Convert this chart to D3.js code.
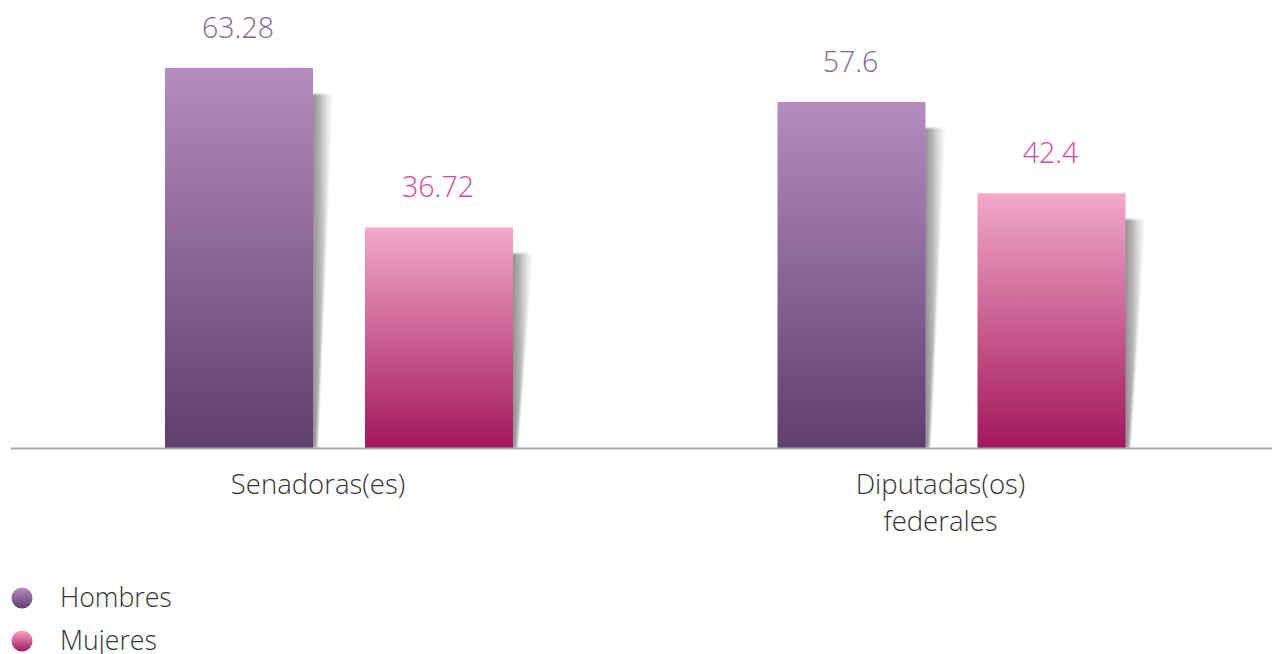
<!DOCTYPE html>
<html><head><meta charset="utf-8">
<script src="https://cdn.jsdelivr.net/npm/d3@7/dist/d3.min.js"></script>
<style>body{margin:0;background:#fff;}svg{display:block;}text{font-family:"Open Sans",sans-serif;font-weight:300;}</style>
</head><body><div id="chart"></div>
<script>
const categories = ["Senadoras(es)", "Diputadas(os) federales"];
const categoryLines = [["Senadoras(es)"], ["Diputadas(os)", "federales"]];
const seriesNames = ["Hombres", "Mujeres"];
const hombres = [63.28, 57.6];
const mujeres = [36.72, 42.4];
const valueLabels = [["63.28", "36.72"], ["57.6", "42.4"]];

const W = 1272, H = 654;
const svg = d3.select("#chart").append("svg").attr("width", W).attr("height", H);
const defs = svg.append("defs");

const grads = {
  Hombres: ["#b58cbf", "#5e3f6e"],
  Mujeres: ["#f2a9ca", "#a2175a"]
};
const labelColor = {Hombres: "#7f6797", Mujeres: "#d8479a"};
Object.entries(grads).forEach(([k, c]) => {
  const g = defs.append("linearGradient").attr("id", "g" + k).attr("x1", 0).attr("y1", 0).attr("x2", 0).attr("y2", 1);
  g.append("stop").attr("offset", "0%").attr("stop-color", c[0]);
  g.append("stop").attr("offset", "100%").attr("stop-color", c[1]);
});
const sg = defs.append("linearGradient").attr("id", "shadow").attr("x1", 0).attr("y1", 0).attr("x2", 1).attr("y2", 0);
sg.append("stop").attr("offset", "0%").attr("stop-color", "#858585").attr("stop-opacity", 1);
sg.append("stop").attr("offset", "45%").attr("stop-color", "#a5a5a5").attr("stop-opacity", 0.8);
sg.append("stop").attr("offset", "100%").attr("stop-color", "#dcdcdc").attr("stop-opacity", 0.25);
defs.append("filter").attr("id", "blur").attr("x", "-20%").attr("y", "-5%").attr("width", "140%").attr("height", "110%")
  .append("feGaussianBlur").attr("stdDeviation", 1);

const baseY = 448;
const y = d3.scaleLinear().domain([0, 70]).range([baseY, baseY - 70 * 6.007]);
const x0 = d3.scaleBand().domain(categories).range([32.75, 1257.75]).padding(0);
const x1 = d3.scaleBand().domain(seriesNames).range([-174, 174]).paddingInner(0.26).paddingOuter(0);

const data = categories.map((c, i) => ({cat: c, i, vals: [
  {s: "Hombres", v: hombres[i], lbl: valueLabels[i][0]},
  {s: "Mujeres", v: mujeres[i], lbl: valueLabels[i][1]}
]}));

const groups = svg.selectAll("g.grp").data(data).join("g").attr("class", "grp")
  .attr("transform", d => `translate(${x0(d.cat) + x0.bandwidth() / 2},0)`);

const bw = x1.bandwidth();
// shadows
groups.selectAll("path.sh").data(d => d.vals).join("path").attr("class", "sh")
  .attr("d", d => {
    const xr = x1(d.s) + bw - 2;
    const top = y(d.v) + 26;
    return `M${xr},${top} L${xr + 21},${top} L${xr + 6},${baseY} L${xr},${baseY} Z`;
  })
  .attr("fill", "url(#shadow)").attr("filter", "url(#blur)");

groups.selectAll("rect.bar").data(d => d.vals).join("rect").attr("class", "bar")
  .attr("x", d => x1(d.s)).attr("width", bw)
  .attr("y", d => y(d.v)).attr("height", d => baseY - y(d.v))
  .attr("fill", d => `url(#g${d.s})`);

// axis line
svg.append("line").attr("x1", 11).attr("x2", W).attr("y1", baseY + 0.5).attr("y2", baseY + 0.5)
  .attr("stroke", "#a9a9b2").attr("stroke-width", 2);

groups.selectAll("text.val").data(d => d.vals).join("text").attr("class", "val")
  .attr("x", d => x1(d.s) + bw / 2 - 1).attr("y", d => y(d.v) - 30)
  .attr("text-anchor", "middle").attr("font-size", 28.5)
  .attr("fill", d => labelColor[d.s]).text(d => d.lbl);

// category labels
const catOffset = [-21, -11];
groups.each(function (d) {
  const t = d3.select(this).append("text").attr("text-anchor", "middle")
    .attr("font-size", 27.5).attr("fill", "#333");
  categoryLines[d.i].forEach((ln, j) => {
    t.append("tspan").attr("x", catOffset[d.i]).attr("y", 494 + j * 37).text(ln);
  });
});

// legend
const leg = svg.selectAll("g.leg").data(seriesNames).join("g").attr("class", "leg")
  .attr("transform", (d, i) => `translate(22,${598 + i * 43})`);
leg.append("circle").attr("r", 10.5).attr("fill", d => `url(#g${d})`);
leg.append("text").attr("x", 38).attr("y", 9).attr("font-size", 26.7).attr("fill", "#333").text(d => d);
</script></body></html>
